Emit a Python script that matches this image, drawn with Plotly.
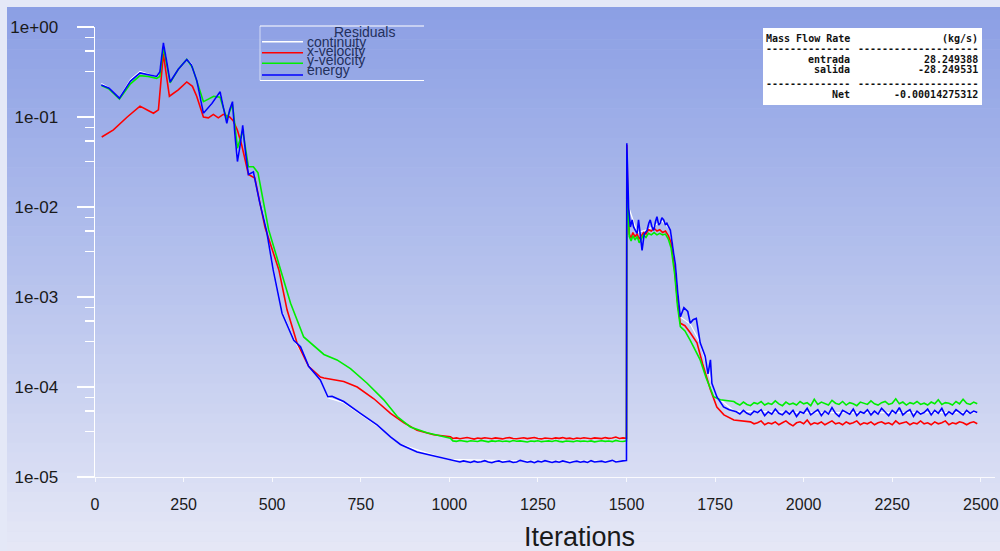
import plotly.graph_objects as go

# ---------------- data ----------------
# (iteration, residual) pairs for shaped parts; regular-grid lists for noisy parts
continuity_pts = [(18, 0.235), (40, 0.21), (69, 0.163), (100, 0.26), (127, 0.32), (150, 0.30), (174, 0.28),
                  (183, 0.31), (193, 0.66), (203, 0.40), (212, 0.245), (235, 0.34), (259, 0.44), (272, 0.39),
                  (287, 0.26), (306, 0.11), (330, 0.14), (353, 0.19), (372, 0.09), (388, 0.145), (402, 0.033),
                  (417, 0.08), (433, 0.023), (447, 0.024), (484, 0.0056), (503, 0.0021), (528, 6.8e-4),
                  (561, 3.4e-4), (603, 1.75e-4), (636, 1.22e-4), (657, 7.6e-5), (702, 6.7e-5), (749, 5.0e-5),
                  (796, 3.7e-5), (862, 2.3e-5), (975, 1.65e-5), (1000, 1.57e-5), (1250, 1.5e-5), (1500, 1.5e-5),
                  (1501, 0.05), (1506, 0.01), (1530, 0.0052), (1560, 0.0056), (1600, 0.0070), (1624, 0.0056),
                  (1638, 0.0023), (1652, 6.0e-4), (1680, 5.0e-4), (1708, 3.1e-4), (1741, 1.1e-4), (1755, 7.8e-5),
                  (1803, 5.4e-5), (2000, 5.2e-5), (2250, 5.2e-5), (2490, 5.2e-5)]

xvel_p1 = [(19, 0.060), (52, 0.072), (91, 0.100), (127, 0.132), (150, 0.118), (165, 0.110), (179, 0.120),
           (186, 0.25), (193, 0.51), (200, 0.32), (210, 0.170), (235, 0.200), (259, 0.245), (275, 0.219),
           (287, 0.170), (306, 0.100), (320, 0.098), (334, 0.107), (348, 0.098), (362, 0.107), (380, 0.100),
           (390, 0.091), (402, 0.071), (414, 0.049), (425, 0.032), (433, 0.023), (451, 0.021), (480, 0.0059),
           (519, 0.0020), (542, 7.2e-4), (570, 3.1e-4), (603, 1.7e-4), (636, 1.29e-4), (646, 1.26e-4),
           (702, 1.15e-4), (740, 1.0e-4), (787, 7.4e-5), (834, 5.1e-5), (872, 4.0e-5), (909, 3.3e-5),
           (956, 2.95e-5), (1003, 2.8e-5)]
xvel_flat = [2.68e-5, 2.72e-5, 2.66e-5, 2.70e-5, 2.75e-5, 2.69e-5, 2.64e-5, 2.71e-5, 2.67e-5, 2.73e-5,
             2.69e-5, 2.66e-5, 2.72e-5, 2.70e-5, 2.65e-5, 2.71e-5, 2.74e-5, 2.68e-5, 2.66e-5, 2.70e-5,
             2.73e-5, 2.67e-5, 2.69e-5, 2.75e-5, 2.68e-5, 2.65e-5, 2.71e-5, 2.70e-5, 2.66e-5, 2.72e-5,
             2.69e-5, 2.74e-5, 2.67e-5, 2.70e-5, 2.65e-5, 2.71e-5, 2.68e-5, 2.73e-5, 2.69e-5, 2.66e-5,
             2.72e-5, 2.70e-5, 2.67e-5, 2.74e-5, 2.69e-5, 2.71e-5, 2.78e-5, 2.68e-5, 2.72e-5, 2.70e-5]
xvel_p2 = [(1501, 0.049), (1504, 0.012), (1508, 0.0050), (1513, 0.0045), (1518, 0.0052), (1524, 0.0047),
           (1530, 0.0050), (1536, 0.0044), (1542, 0.0048), (1548, 0.0052), (1555, 0.0050), (1562, 0.0056),
           (1570, 0.0054), (1578, 0.0058), (1586, 0.0054), (1594, 0.0056), (1602, 0.0052), (1610, 0.0054),
           (1618, 0.0048), (1626, 0.0040), (1636, 0.0020), (1644, 8.9e-4), (1652, 5.1e-4), (1665, 4.8e-4),
           (1680, 4.0e-4), (1699, 3.1e-4), (1715, 1.8e-4), (1737, 9.3e-5), (1755, 6.0e-5), (1775, 4.9e-5),
           (1803, 4.3e-5), (1840, 4.2e-5)]
xvel_tail = [4.1e-5, 3.9e-5, 4.0e-5, 4.2e-5, 3.8e-5, 4.0e-5, 3.9e-5, 4.1e-5, 3.8e-5, 4.0e-5, 4.2e-5, 3.9e-5,
             3.7e-5, 4.0e-5, 4.1e-5, 3.9e-5, 4.3e-5, 3.8e-5, 4.0e-5, 3.9e-5, 4.1e-5, 3.8e-5, 4.0e-5, 4.2e-5,
             3.9e-5, 4.0e-5, 3.8e-5, 4.1e-5, 3.9e-5, 4.0e-5, 4.2e-5, 3.8e-5, 4.0e-5, 3.9e-5, 4.1e-5, 3.8e-5,
             4.0e-5, 4.1e-5, 3.9e-5, 4.0e-5, 3.8e-5, 4.2e-5, 3.9e-5, 4.0e-5, 4.1e-5, 3.8e-5, 4.0e-5, 3.9e-5,
             4.2e-5, 3.9e-5, 4.0e-5, 3.8e-5, 4.1e-5, 3.9e-5, 4.0e-5, 4.2e-5, 3.8e-5, 4.0e-5, 3.9e-5, 4.1e-5,
             4.0e-5, 3.8e-5, 4.0e-5, 4.1e-5, 3.9e-5]

yvel_p1 = [(18, 0.224), (40, 0.204), (69, 0.158), (100, 0.234), (127, 0.288), (150, 0.282), (174, 0.269),
           (183, 0.282), (193, 0.60), (203, 0.38), (212, 0.240), (235, 0.339), (259, 0.437), (275, 0.355),
           (295, 0.209), (306, 0.148), (320, 0.158), (335, 0.170), (353, 0.166), (372, 0.095), (388, 0.138),
           (402, 0.045), (417, 0.071), (433, 0.028), (447, 0.028), (460, 0.024), (490, 0.0056), (523, 0.0020),
           (552, 8.5e-4), (589, 3.6e-4), (646, 2.3e-4), (683, 2.0e-4), (721, 1.6e-4), (768, 1.1e-4),
           (815, 7.2e-5), (853, 4.7e-5), (890, 3.6e-5), (937, 3.1e-5), (1003, 2.7e-5)]
yvel_flat = [2.52e-5, 2.49e-5, 2.54e-5, 2.50e-5, 2.47e-5, 2.53e-5, 2.51e-5, 2.48e-5, 2.55e-5, 2.50e-5,
             2.46e-5, 2.52e-5, 2.49e-5, 2.53e-5, 2.48e-5, 2.51e-5, 2.47e-5, 2.54e-5, 2.50e-5, 2.52e-5,
             2.48e-5, 2.45e-5, 2.51e-5, 2.49e-5, 2.53e-5, 2.47e-5, 2.50e-5, 2.52e-5, 2.48e-5, 2.54e-5,
             2.49e-5, 2.46e-5, 2.51e-5, 2.50e-5, 2.47e-5, 2.53e-5, 2.49e-5, 2.51e-5, 2.48e-5, 2.52e-5,
             2.46e-5, 2.50e-5, 2.53e-5, 2.49e-5, 2.51e-5, 2.47e-5, 2.55e-5, 2.50e-5, 2.48e-5, 2.52e-5]
yvel_p2 = [(1501, 0.035), (1504, 0.010), (1508, 0.0047), (1513, 0.0042), (1518, 0.0048), (1524, 0.0043),
           (1530, 0.0047), (1536, 0.0040), (1542, 0.0045), (1548, 0.0049), (1555, 0.0046), (1562, 0.0051),
           (1570, 0.0049), (1578, 0.0052), (1586, 0.0049), (1594, 0.0051), (1602, 0.0049), (1610, 0.0050),
           (1618, 0.0044), (1626, 0.0035), (1636, 0.0018), (1644, 7.9e-4), (1652, 4.7e-4), (1665, 4.2e-4),
           (1680, 3.3e-4), (1708, 2.0e-4), (1725, 1.26e-4), (1746, 7.8e-5), (1765, 7.2e-5), (1803, 6.9e-5)]
yvel_tail = [6.6e-5, 6.3e-5, 6.8e-5, 6.4e-5, 6.2e-5, 6.7e-5, 6.5e-5, 6.9e-5, 6.3e-5, 6.6e-5, 6.4e-5, 7.0e-5,
             6.5e-5, 6.2e-5, 6.8e-5, 6.4e-5, 6.6e-5, 6.3e-5, 6.9e-5, 6.5e-5, 6.7e-5, 6.2e-5, 7.3e-5, 6.4e-5,
             6.8e-5, 6.5e-5, 6.3e-5, 7.1e-5, 6.6e-5, 6.4e-5, 6.9e-5, 6.3e-5, 6.7e-5, 6.5e-5, 6.2e-5, 6.8e-5,
             6.6e-5, 6.4e-5, 7.0e-5, 6.5e-5, 6.3e-5, 6.7e-5, 6.9e-5, 6.4e-5, 6.6e-5, 7.4e-5, 6.5e-5, 6.8e-5,
             6.3e-5, 6.7e-5, 6.5e-5, 6.9e-5, 6.4e-5, 6.6e-5, 6.3e-5, 6.8e-5, 6.5e-5, 7.2e-5, 6.4e-5, 6.7e-5,
             6.6e-5, 6.3e-5, 6.9e-5, 6.5e-5, 7.3e-5, 6.6e-5, 6.4e-5, 6.8e-5, 6.5e-5]

energy_p1 = [(18, 0.227), (40, 0.209), (69, 0.162), (100, 0.251), (127, 0.309), (150, 0.295), (174, 0.282),
             (183, 0.316), (193, 0.668), (203, 0.398), (212, 0.245), (235, 0.339), (259, 0.437), (272, 0.380),
             (287, 0.257), (306, 0.110), (330, 0.141), (353, 0.191), (365, 0.112), (372, 0.085), (380, 0.120),
             (388, 0.148), (395, 0.063), (402, 0.032), (410, 0.050), (417, 0.081), (425, 0.040), (433, 0.023),
             (447, 0.0245), (465, 0.0112), (484, 0.0055), (503, 0.0020), (528, 6.6e-4), (561, 3.3e-4),
             (580, 2.8e-4), (603, 1.7e-4), (636, 1.2e-4), (657, 7.8e-5), (669, 7.9e-5), (702, 6.9e-5),
             (749, 5.1e-5), (796, 3.8e-5), (834, 2.8e-5), (862, 2.3e-5), (909, 1.9e-5), (975, 1.66e-5),
             (1000, 1.58e-5)]
energy_flat = [1.52e-5, 1.49e-5, 1.47e-5, 1.51e-5, 1.48e-5, 1.45e-5, 1.50e-5, 1.46e-5, 1.48e-5, 1.52e-5,
               1.47e-5, 1.44e-5, 1.49e-5, 1.51e-5, 1.46e-5, 1.48e-5, 1.50e-5, 1.45e-5, 1.47e-5, 1.53e-5,
               1.48e-5, 1.46e-5, 1.49e-5, 1.44e-5, 1.50e-5, 1.47e-5, 1.52e-5, 1.48e-5, 1.45e-5, 1.49e-5,
               1.46e-5, 1.51e-5, 1.47e-5, 1.44e-5, 1.48e-5, 1.50e-5, 1.46e-5, 1.49e-5, 1.45e-5, 1.52e-5,
               1.47e-5, 1.48e-5, 1.50e-5, 1.46e-5, 1.49e-5, 1.53e-5, 1.47e-5, 1.50e-5, 1.51e-5, 1.52e-5]
energy_p2 = [(1501, 0.051), (1506, 0.010), (1511, 0.0060), (1516, 0.0072), (1520, 0.0060), (1525, 0.0055),
             (1530, 0.0051), (1534, 0.0072), (1539, 0.0050), (1544, 0.0033), (1550, 0.0050), (1558, 0.0055),
             (1563, 0.0066), (1567, 0.0072), (1572, 0.0060), (1577, 0.0055), (1582, 0.0069), (1586, 0.0078),
             (1591, 0.0063), (1595, 0.0066), (1600, 0.0076), (1605, 0.0072), (1610, 0.0063), (1614, 0.0066),
             (1619, 0.0060), (1624, 0.0055), (1633, 0.0031), (1638, 0.0023), (1645, 0.0011), (1652, 6.0e-4),
             (1662, 7.6e-4), (1673, 6.9e-4), (1680, 5.1e-4), (1688, 5.6e-4), (1697, 5.8e-4), (1708, 3.1e-4),
             (1722, 2.2e-4), (1730, 1.4e-4), (1737, 2.0e-4), (1741, 1.1e-4), (1755, 7.8e-5), (1774, 6.0e-5),
             (1790, 5.6e-5), (1803, 5.4e-5)]
energy_tail = [5.3e-5, 5.0e-5, 5.5e-5, 5.1e-5, 4.9e-5, 5.4e-5, 5.2e-5, 5.6e-5, 4.8e-5, 5.3e-5, 5.0e-5, 5.7e-5,
               5.1e-5, 4.9e-5, 5.4e-5, 5.0e-5, 5.5e-5, 4.7e-5, 5.3e-5, 5.1e-5, 5.8e-5, 4.9e-5, 5.2e-5, 5.6e-5,
               4.8e-5, 5.4e-5, 5.0e-5, 5.9e-5, 5.1e-5, 4.7e-5, 5.5e-5, 5.2e-5, 5.0e-5, 5.7e-5, 4.8e-5, 5.3e-5,
               5.1e-5, 5.6e-5, 4.9e-5, 5.4e-5, 5.0e-5, 5.8e-5, 5.2e-5, 4.8e-5, 5.5e-5, 5.1e-5, 5.9e-5, 4.9e-5,
               5.3e-5, 5.6e-5, 4.7e-5, 5.4e-5, 5.0e-5, 5.2e-5, 5.7e-5, 4.9e-5, 5.5e-5, 5.1e-5, 5.8e-5, 4.8e-5,
               5.3e-5, 5.0e-5, 5.6e-5, 5.2e-5, 4.9e-5, 5.5e-5, 5.1e-5, 5.4e-5, 5.2e-5]

y_tick_vals = [1e-5, 1e-4, 1e-3, 1e-2, 1e-1, 1]
y_tick_text = ["1e-05", "1e-04", "1e-03", "1e-02", "1e-01", "1e+00"]
x_tick_vals = [0, 250, 500, 750, 1000, 1250, 1500, 1750, 2000, 2250, 2500]
legend_title = "Residuals"
series_names = ["continuity", "x-velocity", "y-velocity", "energy"]
series_colors = ["#ffffff", "#ff0000", "#00ee00", "#0000ff"]

mfr_rows = [("Mass Flow Rate", "(kg/s)"),
            ("--------------", "--------------------"),
            ("entrada", "28.249388"),
            ("salida", "-28.249531"),
            ("--------------", "--------------------"),
            ("Net", "-0.00014275312")]


def assemble(parts):
    xs, ys = [], []
    for p in parts:
        if isinstance(p, tuple):  # (start, values) regular grid, step 10
            start, vals = p
            xs += list(range(start, start + 10 * len(vals), 10))
            ys += vals
        else:
            xs += [a for a, _ in p]
            ys += [b for _, b in p]
    return xs, ys


series = [
    assemble([continuity_pts]),
    assemble([xvel_p1, (1010, xvel_flat), xvel_p2, (1850, xvel_tail)]),
    assemble([yvel_p1, (1010, yvel_flat), yvel_p2, (1810, yvel_tail)]),
    assemble([energy_p1, (1010, energy_flat), energy_p2, (1810, energy_tail)]),
]

# ---------------- layout helpers ----------------
W, H = 1000, 551
L, R, T, B = 95, 5, 27, 74
PW, PH = W - L - R, H - T - B


def px(x):
    return (x - L) / PW


def py(y):
    return (H - B - y) / PH


fig = go.Figure()
for (xs, ys), name, col in zip(series, series_names, series_colors):
    fig.add_trace(go.Scatter(x=xs, y=ys, mode="lines", name=name, hoverinfo="skip",
                             line=dict(color=col, width=1.6 if col != "#ffffff" else 1.2)))

shapes = []
# background vertical gradient
top_c, mid_c, bot_c = (138, 158, 228), (182, 194, 237), (230, 232, 246)
n = 56
for i in range(n):
    y0 = i * H / n
    y1 = (i + 1) * H / n
    t = (y0 + y1) / 2 / H
    if t < 0.5:
        a, b, f = top_c, mid_c, t / 0.5
    else:
        a, b, f = mid_c, bot_c, (t - 0.5) / 0.5
    c = tuple(round(a[k] + (b[k] - a[k]) * f) for k in range(3))
    shapes.append(dict(type="rect", xref="paper", yref="paper", x0=px(0), x1=px(W), y0=py(y1 + 0.5), y1=py(y0),
                       fillcolor="rgb(%d,%d,%d)" % c, line=dict(width=0), layer="below"))
# light border strips
shapes.append(dict(type="rect", xref="paper", yref="paper", x0=px(0), x1=px(7), y0=py(H), y1=py(0),
                   fillcolor="#e4e8f7", line=dict(width=0), layer="below"))
shapes.append(dict(type="rect", xref="paper", yref="paper", x0=px(0), x1=px(W), y0=py(7), y1=py(0),
                   fillcolor="#e4e8f7", line=dict(width=0), layer="below"))

# legend box lines
shapes.append(dict(type="line", xref="paper", yref="paper", x0=px(260), x1=px(424), y0=py(26), y1=py(26),
                   line=dict(color="white", width=1.2)))
shapes.append(dict(type="line", xref="paper", yref="paper", x0=px(260), x1=px(424), y0=py(80.5), y1=py(80.5),
                   line=dict(color="white", width=1.2)))
shapes.append(dict(type="line", xref="paper", yref="paper", x0=px(260), x1=px(260), y0=py(26), y1=py(80.5),
                   line=dict(color="rgba(255,255,255,0.6)", width=1)))
legend_line_y = [41.7, 52.7, 63.3, 75.0]
for yy, col in zip(legend_line_y, series_colors):
    shapes.append(dict(type="line", xref="paper", yref="paper", x0=px(262), x1=px(303), y0=py(yy), y1=py(yy),
                       line=dict(color=col, width=1.5)))

# mass flow rate box
shapes.append(dict(type="rect", xref="paper", yref="paper", x0=px(763), x1=px(982), y0=py(105), y1=py(28),
                   fillcolor="white", line=dict(width=0)))

annotations = []
legend_font = dict(family="Liberation Sans, Arial, sans-serif", size=14, color="#23305c")
annotations.append(dict(text=legend_title, x=px(364), y=py(31.5), xref="paper", yref="paper",
                        xanchor="center", yanchor="middle", showarrow=False, font=legend_font))
legend_text_y = [42.0, 51.0, 60.0, 69.5]
for yy, name in zip(legend_text_y, series_names):
    annotations.append(dict(text=name, x=px(305), y=py(yy), xref="paper", yref="paper",
                            xanchor="left", yanchor="middle", showarrow=False, font=legend_font))

mono = dict(family="DejaVu Sans Mono, Liberation Mono, monospace", size=10, color="#111111")
row_y = [38.5, 49, 59.5, 69.5, 83.5, 94.5]
for (left, right), yy in zip(mfr_rows, row_y):
    annotations.append(dict(text="<b>%s</b>" % left, x=px(852), y=py(yy), xref="paper", yref="paper",
                            xanchor="right", yanchor="middle", showarrow=False, font=mono))
    annotations.append(dict(text="<b>%s</b>" % right, x=px(980), y=py(yy), xref="paper", yref="paper",
                            xanchor="right", yanchor="middle", showarrow=False, font=mono))

annotations.append(dict(text="Iterations", x=px(579), y=py(537), xref="paper", yref="paper",
                        xanchor="center", yanchor="middle", showarrow=False,
                        font=dict(family="Liberation Sans, Arial, sans-serif", size=27, color="#1a1a1a")))

minor_vals = []
for e in range(-5, 0):
    for m in (3.2, 5.4, 7.6):
        minor_vals.append(m * 10 ** e)

fig.update_layout(
    width=W, height=H,
    margin=dict(l=L, r=R, t=T, b=B, autoexpand=False),
    paper_bgcolor="rgb(200,208,240)",
    plot_bgcolor="rgba(0,0,0,0)",
    showlegend=False,
    hovermode=False,
    shapes=shapes,
    annotations=annotations,
    xaxis=dict(range=[0, (W - L - R) / (885.8 / 2500)], showgrid=False, zeroline=False, automargin=False,
               showline=True, linecolor="rgba(255,255,255,0.85)", linewidth=1,
               tickmode="array", tickvals=x_tick_vals, ticks="outside", ticklen=4,
               tickcolor="rgba(255,255,255,0.8)", ticklabelstandoff=9,
               tickfont=dict(family="Liberation Sans, Arial, sans-serif", size=16, color="#1a1a1a")),
    yaxis=dict(type="log", range=[-5, 0], showgrid=False, zeroline=False, automargin=False,
               showline=True, linecolor="white", linewidth=1.5,
               tickmode="array", tickvals=y_tick_vals, ticktext=y_tick_text,
               ticks="outside", ticklen=17, tickcolor="white", tickwidth=1.5,
               ticklabelstandoff=15,
               minor=dict(tickmode="array", tickvals=minor_vals, ticks="outside", ticklen=9,
                          tickcolor="white", tickwidth=1.2, showgrid=False),
               tickfont=dict(family="Liberation Sans, Arial, sans-serif", size=17, color="#1a1a1a")),
)

fig.write_html("out.html", config={"displayModeBar": False, "staticPlot": True},
               post_script="document.body.style.margin='0';document.body.style.overflow='hidden';")
